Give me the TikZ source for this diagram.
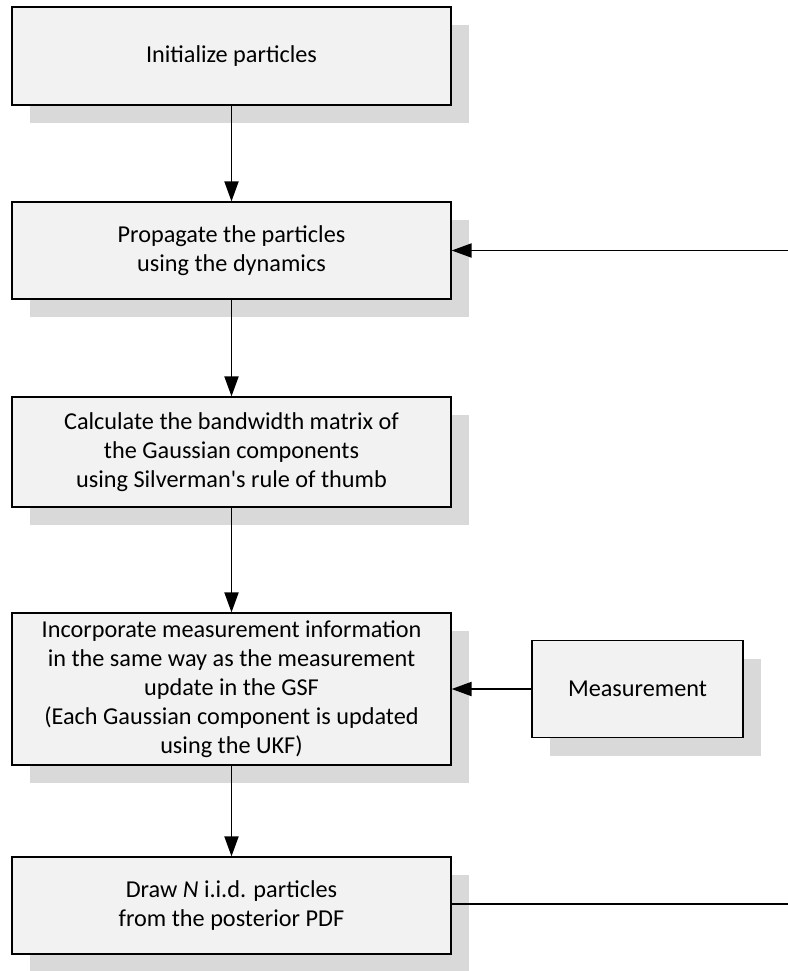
\documentclass[tikz,border=0pt]{standalone}
\usepackage{fontspec}
\setmainfont{Carlito}
\usepackage{tikz}
\usetikzlibrary{arrows.meta,shadows}

\definecolor{boxfill}{HTML}{F2F2F2}
\definecolor{shadowgray}{HTML}{D9D9D9}

\begin{document}
\begin{tikzpicture}[
    stepbox/.style={draw=black, line width=0.7pt, fill=boxfill, align=center,
        minimum width=8.78cm, font=\fontsize{13.8}{16.5}\selectfont,
        drop shadow={shadow xshift=0.36cm, shadow yshift=-0.36cm, fill=shadowgray, opacity=1}},
    flow/.style={line width=1.1pt, -{Triangle[length=0.4cm, width=0.28cm]}}
]
    \useasboundingbox (0,0) rectangle (15.76,-19.42);

    \node[stepbox, minimum height=1.96cm] (init) at (4.63,-1.12) {Initialize particles};
    \node[stepbox, minimum height=1.94cm] (prop) at (4.63,-5.01) {Propagate the particles\\using the dynamics};
    \node[stepbox, minimum height=2.20cm] (band) at (4.63,-9.04) {Calculate the bandwidth matrix of\\the Gaussian components\\using Silverman\textquotesingle s rule of thumb};
    \node[stepbox, minimum height=3.04cm] (upd) at (4.63,-13.78) {Incorporate measurement information\\in the same way as the measurement\\update in the GSF\\(Each Gaussian component is updated\\using the UKF)};
    \node[stepbox, minimum height=1.94cm] (draw) at (4.63,-18.11) {Draw \textit{N} i.i.d. particles\\from the posterior PDF};
    \node[stepbox, minimum width=4.22cm, minimum height=1.94cm] (meas) at (12.75,-13.78) {Measurement};

    \coordinate (loopin) at (15.76,-5.01);
    \coordinate (loopout) at (15.76,-18.08);

    \draw[flow] (init) -- (prop);
    \draw[flow] (prop) -- (band);
    \draw[flow] (band) -- (upd);
    \draw[flow] (upd) -- (draw);
    \draw[flow] (meas) -- (upd);
    \draw[flow] (loopin) -- (prop);
    \draw[line width=1.1pt] (draw.east |- loopout) -- (loopout);
\end{tikzpicture}
\end{document}
